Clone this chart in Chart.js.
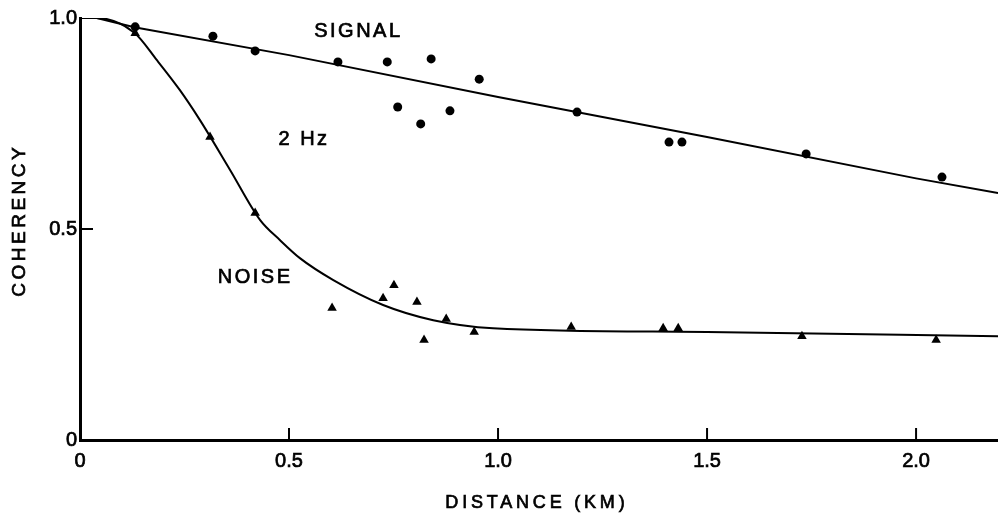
<!DOCTYPE html>
<html>
<head>
<meta charset="utf-8">
<script src="https://cdn.jsdelivr.net/npm/chart.js@4/dist/chart.umd.min.js"></script>
<style>
  html, body { margin: 0; padding: 0; background: #fff; }
  #wrap { width: 998px; height: 519px; position: relative; }
</style>
</head>
<body>
<div id="wrap"><canvas id="c" width="998" height="519"></canvas></div>
<script>
// ---- data ----
const signalX = [0.132, 0.318, 0.419, 0.617, 0.735, 0.840, 0.955, 0.760, 0.815, 0.885, 1.189, 1.409, 1.440, 1.737, 2.062];
const signalY = [0.979, 0.957, 0.922, 0.896, 0.896, 0.903, 0.855, 0.789, 0.749, 0.780, 0.777, 0.706, 0.706, 0.678, 0.623];
const noiseX  = [0.132, 0.311, 0.419, 0.603, 0.725, 0.751, 0.806, 0.876, 0.823, 0.943, 1.175, 1.395, 1.431, 1.727, 2.048];
const noiseY  = [0.964, 0.718, 0.538, 0.313, 0.336, 0.367, 0.327, 0.287, 0.237, 0.256, 0.268, 0.265, 0.265, 0.246, 0.237];
const signalFitX = [0, 0.04, 0.13, 0.5, 1.0, 1.5, 2.0, 2.196];
const signalFitY = [1.0, 1.0, 0.978, 0.912, 0.813, 0.718, 0.620, 0.585];
const noiseFitX = [0, 0.04, 0.13, 0.184, 0.239, 0.287, 0.359, 0.431, 0.478, 0.526, 0.606, 0.725, 0.845, 0.988, 1.5, 2.196];
const noiseFitY = [1.0, 1.0, 0.965, 0.900, 0.829, 0.758, 0.640, 0.521, 0.474, 0.431, 0.379, 0.320, 0.284, 0.265, 0.256, 0.246];
const xTickValues = [0, 0.5, 1.0, 1.5, 2.0];
const xTickLabels = ['0', '0.5', '1.0', '1.5', '2.0'];
const yTickValues = [0, 0.5, 1.0];
const yTickLabels = ['0', '0.5', '1.0'];
const xTitle = 'DISTANCE (KM)';
const yTitle = 'COHERENCY';
const annotations = [
  { text: 'SIGNAL', x: 0.663, y: 0.967 },
  { text: '2 Hz',   x: 0.533, y: 0.713 },
  { text: 'NOISE',  x: 0.416, y: 0.386 }
];

const toPts = (xs, ys) => xs.map((x, i) => ({ x: x, y: ys[i] }));
const FONT = '"Liberation Sans", Arial, Helvetica, sans-serif';

function spacedText(ctx, text, cx, cy, spacing) {
  ctx.letterSpacing = spacing + 'px';
  const w = ctx.measureText(text).width - spacing;
  ctx.textAlign = 'left';
  ctx.textBaseline = 'middle';
  ctx.fillText(text, cx - w / 2, cy);
  ctx.strokeText(text, cx - w / 2, cy);
  ctx.letterSpacing = '0px';
}

const decor = {
  id: 'decor',
  afterDraw(chart) {
    const ctx = chart.ctx;
    const xs = chart.scales.x, ys = chart.scales.y;
    const area = chart.chartArea;
    ctx.save();
    ctx.strokeStyle = '#000';
    ctx.fillStyle = '#000';
    ctx.lineWidth = 2;
    // inward tick marks
    xTickValues.forEach(v => {
      if (v === 0) return;
      const px = xs.getPixelForValue(v);
      ctx.beginPath();
      ctx.moveTo(px, area.bottom);
      ctx.lineTo(px, area.bottom - 12);
      ctx.stroke();
    });
    yTickValues.forEach(v => {
      if (v === 0 || v === 1) return;
      const py = ys.getPixelForValue(v);
      ctx.beginPath();
      ctx.moveTo(area.left, py);
      ctx.lineTo(area.left + 13, py);
      ctx.stroke();
    });
    // annotations
    ctx.lineWidth = 0.7;
    ctx.font = '20px ' + FONT;
    annotations.forEach(a => {
      spacedText(ctx, a.text, xs.getPixelForValue(a.x), ys.getPixelForValue(a.y), 2.5);
    });
    // axis titles
    ctx.font = '18px ' + FONT;
    spacedText(ctx, xTitle, (area.left + area.right) / 2 - 4, 503, 3.8);
    ctx.save();
    ctx.translate(20, (area.top + area.bottom) / 2 - 7);
    ctx.rotate(-Math.PI / 2);
    ctx.font = '19px ' + FONT;
    spacedText(ctx, yTitle, 0, 0, 3.5);
    ctx.restore();
    ctx.restore();
  }
};

new Chart(document.getElementById('c'), {
  type: 'scatter',
  data: {
    datasets: [
      {
        label: 'Signal fit',
        data: toPts(signalFitX, signalFitY),
        showLine: true,
        borderColor: '#000',
        borderWidth: 2,
        pointRadius: 0,
        tension: 0
      },
      {
        label: 'Noise fit',
        data: toPts(noiseFitX, noiseFitY),
        showLine: true,
        borderColor: '#000',
        borderWidth: 2,
        pointRadius: 0,
        cubicInterpolationMode: 'monotone'
      },
      {
        label: 'Signal',
        data: toPts(signalX, signalY),
        pointStyle: 'circle',
        pointRadius: 4.5,
        backgroundColor: '#000',
        borderColor: '#000',
        borderWidth: 0
      },
      {
        label: 'Noise',
        data: toPts(noiseX, noiseY),
        pointStyle: 'triangle',
        pointRadius: 5.5,
        backgroundColor: '#000',
        borderColor: '#000',
        borderWidth: 0
      }
    ]
  },
  options: {
    responsive: false,
    animation: false,
    events: [],
    layout: { autoPadding: false, padding: { top: 18, right: 0, left: 0, bottom: 0 } },
    plugins: { legend: { display: false }, tooltip: { enabled: false } },
    scales: {
      x: {
        type: 'linear',
        min: 0,
        max: 2.196,
        afterFit(s) { s.height = 79; s.paddingRight = 0; s.paddingLeft = 0; },
        afterBuildTicks(s) { s.ticks = xTickValues.map(v => ({ value: v })); },
        grid: { display: false, drawTicks: false },
        border: { display: true, color: '#000', width: 3 },
        ticks: {
          color: '#000',
          padding: 9,
          maxRotation: 0,
          autoSkip: false,
          textStrokeColor: '#000',
          textStrokeWidth: 0.7,
          font: { family: FONT, size: 20 },
          callback: (v) => { const i = xTickValues.indexOf(v); return i >= 0 ? xTickLabels[i] : ''; }
        }
      },
      y: {
        type: 'linear',
        min: 0,
        max: 1.0,
        afterFit(s) { s.width = 80; s.paddingTop = 0; s.paddingBottom = 0; },
        afterBuildTicks(s) { s.ticks = yTickValues.map(v => ({ value: v })); },
        grid: { display: false, drawTicks: false },
        border: { display: true, color: '#000', width: 3 },
        ticks: {
          color: '#000',
          padding: 3,
          autoSkip: false,
          textStrokeColor: '#000',
          textStrokeWidth: 0.7,
          font: { family: FONT, size: 20 },
          callback: (v) => { const i = yTickValues.indexOf(v); return i >= 0 ? yTickLabels[i] : ''; }
        }
      }
    }
  },
  plugins: [decor]
});
</script>
</body>
</html>
